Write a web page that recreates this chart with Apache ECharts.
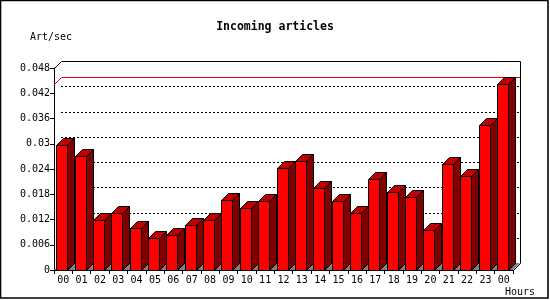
<!DOCTYPE html>
<html>
<head>
<meta charset="utf-8">
<script src="https://cdn.jsdelivr.net/npm/echarts@6/dist/echarts.min.js"></script>
<style>
html,body{margin:0;padding:0;background:#fff;}
#chart{width:550px;height:300px;}
</style>
</head>
<body>
<div id="chart"></div>
<script>
var categories = ['00','01','02','03','04','05','06','07','08','09','10','11','12','13','14','15','16','17','18','19','20','21','22','23','00'];
var artPerSec = [0.0297, 0.0271, 0.0119, 0.0135, 0.0099, 0.0075, 0.0082, 0.0106, 0.0120, 0.0166, 0.0147, 0.0164, 0.0242, 0.0258, 0.0194, 0.0164, 0.0135, 0.0216, 0.0185, 0.0173, 0.0094, 0.0251, 0.0223, 0.0345, 0.0442];
var yTickLabels = ['0','0.006','0.012','0.018','0.024','0.03','0.036','0.042','0.048'];
var gridValues = [0.006, 0.012, 0.018, 0.024, 0.030, 0.036, 0.042];
var titleText = 'Incoming articles';
var yUnit = 'Art/sec';
var xUnit = 'Hours';

var FONT = '"DejaVu Sans Mono", "Liberation Mono", monospace';
var D = 7;
function snap(v){ return Math.round(v) + 0.5; }
var maxVal = Math.max.apply(null, artPerSec);
var nCat = categories.length;

var chart = echarts.init(document.getElementById('chart'), null, {renderer: 'canvas'});

var barData = artPerSec.map(function(v, i){ return [i, v]; });

var option = {
  animation: false,
  backgroundColor: '#fff',
  grid: {left: 54, top: 68, width: 459, height: 202, containLabel: false},
  xAxis: {
    type: 'category',
    data: categories,
    boundaryGap: true,
    axisLine: {show: true, lineStyle: {color: '#000', width: 1}},
    axisTick: {show: true, length: 4, lineStyle: {color: '#000'}},
    axisLabel: {color: '#000', fontFamily: FONT, fontSize: 10, margin: 5, interval: 0},
    splitLine: {show: false}
  },
  yAxis: {
    type: 'value',
    min: 0, max: 0.048, interval: 0.006,
    axisLine: {show: true, lineStyle: {color: '#000', width: 1}},
    axisTick: {show: true, length: 4, lineStyle: {color: '#000'}},
    axisLabel: {
      color: '#000', fontFamily: FONT, fontSize: 10, margin: 4,
      formatter: function(v){ return yTickLabels[Math.round(v / 0.006)]; }
    },
    splitLine: {show: false}
  },
  graphic: [
    {type: 'rect', shape: {x: 0.5, y: 0.5, width: 547.5, height: 297.5}, style: {fill: 'none', stroke: '#000', lineWidth: 1.6}, z: 100},
    {type: 'text', left: 'center', top: 21, style: {text: titleText, font: 'bold 11.5px ' + FONT, fill: '#000'}, z: 100},
    {type: 'text', left: 30, top: 32, style: {text: yUnit, font: '10px ' + FONT, fill: '#000'}, z: 100},
    {type: 'text', left: 505, top: 287, style: {text: xUnit, font: '10px ' + FONT, fill: '#000'}, z: 100}
  ],
  series: [
    {
      type: 'custom',
      name: 'wall',
      z: 1,
      silent: true,
      data: [[0, 0]],
      renderItem: function(params, api){
        var bw = api.size([1, 0])[0];
        var l = api.coord([0, 0])[0] - bw / 2;
        var r = api.coord([nCat - 1, 0])[0] + bw / 2;
        var y0 = api.coord([0, 0])[1];
        var yTop = api.coord([0, 0.048])[1];
        var ym = api.coord([0, maxVal])[1];
        var children = [];
        children.push({type: 'polygon', shape: {points: [[l, y0], [l + D, y0 - D], [r + D, y0 - D], [r, y0]]}, style: {fill: '#808080', stroke: null}});
        for (var k = 0; k < gridValues.length; k++) {
          var gy = snap(api.coord([0, gridValues[k]])[1] - D);
          children.push({type: 'line', shape: {x1: Math.round(l + D), y1: gy, x2: Math.round(r + D), y2: gy}, style: {stroke: '#000', lineWidth: 1, lineDash: [2, 2]}});
        }
        var my = snap(ym - D);
        children.push({type: 'polyline', shape: {points: [[snap(l), snap(ym)], [snap(l + D), my], [snap(r + D), my]]}, style: {stroke: '#e00000', lineWidth: 1, fill: null}});
        children.push({type: 'polyline', shape: {points: [[snap(l), snap(yTop)], [snap(l + D), snap(yTop - D)], [snap(r + D), snap(yTop - D)], [snap(r + D), snap(y0 - D)], [snap(r), snap(y0)]]}, style: {stroke: '#000', lineWidth: 1, fill: null}});
        return {type: 'group', children: children};
      }
    },
    {
      type: 'custom',
      name: 'Art/sec',
      z: 2,
      data: barData,
      renderItem: function(params, api){
        var i = api.value(0), v = api.value(1);
        var base = api.coord([i, 0]);
        var top = api.coord([i, v]);
        var bw = api.size([1, 0])[0];
        var x0 = snap(base[0] - bw / 2 + bw * 0.15 - 0.5);
        var w = Math.round(bw * 0.6);
        var x1 = x0 + w;
        var yb = snap(base[1] - 0.5);
        var yt = snap(top[1]);
        var st = {stroke: '#000', lineWidth: 1};
        return {
          type: 'group',
          children: [
            {type: 'polygon', shape: {points: [[x1, yt], [x1 + D, yt - D], [x1 + D, yb - D], [x1, yb]]}, style: Object.assign({fill: '#800000'}, st)},
            {type: 'polygon', shape: {points: [[x0, yt], [x0 + D, yt - D], [x1 + D, yt - D], [x1, yt]]}, style: Object.assign({fill: '#c00000'}, st)},
            {type: 'rect', shape: {x: x0, y: yt, width: w, height: yb - yt}, style: Object.assign({fill: '#ff0000'}, st)}
          ]
        };
      }
    }
  ]
};
chart.setOption(option);
</script>
</body>
</html>
